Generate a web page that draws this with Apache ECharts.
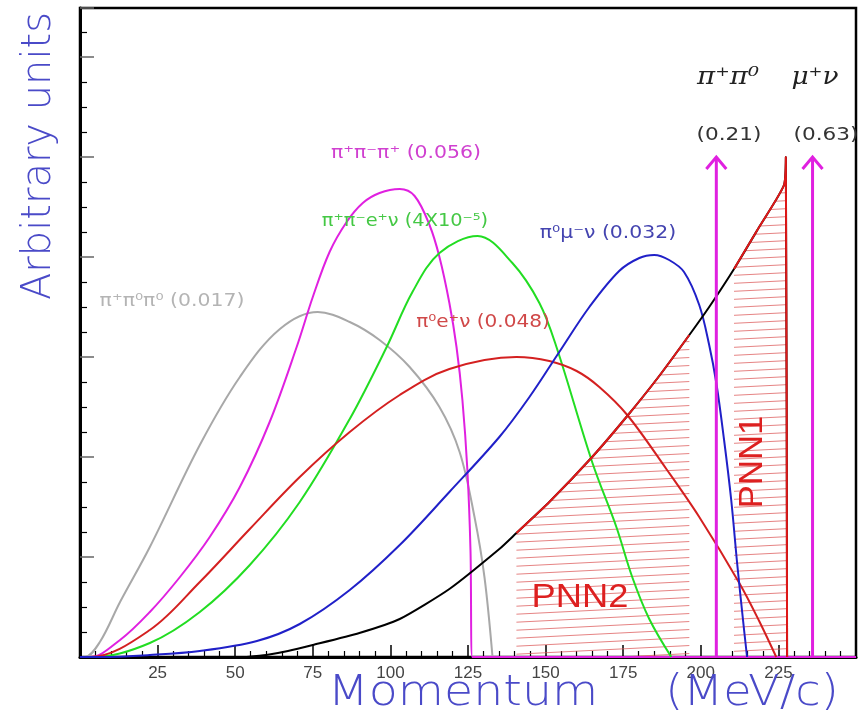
<!DOCTYPE html>
<html><head><meta charset="utf-8">
<script src="https://cdn.jsdelivr.net/npm/echarts@6/dist/echarts.min.js"></script>
<style>html,body{margin:0;padding:0;background:#fff}#c{width:865px;height:718px}</style>
</head><body><div id="c"></div>
<script>
// ---- data (momentum in MeV/c, arbitrary units) ----
const xTickLabels = [25, 50, 75, 100, 125, 150, 175, 200, 225];

const pi3Pi0Pi0X = [0, 1.6, 6.4, 12.9, 22.5, 38.6, 51.5, 64.4, 76.6, 86.9, 96.5, 106.2, 115.8, 122.3, 127.1, 130.3, 132.9];
const pi3Pi0Pi0Y = [0, 0, 0.15, 0.55, 1.1, 2.12, 2.8, 3.28, 3.45, 3.35, 3.17, 2.9, 2.5, 2.05, 1.4, 0.8, 0];

const pi3X = [0, 3.2, 12.9, 22.5, 32.2, 41.8, 51.5, 61.1, 69.8, 75, 80.4, 85.9, 91.1, 96.5, 103, 107.8, 112.6, 115.8, 119, 121.3, 123.2, 124.8, 125.8, 126.4, 250];
const pi3Y = [0, 0, 0.17, 0.45, 0.8, 1.2, 1.7, 2.35, 3.1, 3.6, 4.05, 4.35, 4.54, 4.64, 4.68, 4.61, 4.32, 4.0, 3.54, 3.1, 2.57, 1.87, 1.07, 0, 0];

const ke4X = [0, 4.8, 22.5, 38.6, 54.7, 70.8, 86.9, 98.8, 107.1, 115.8, 128.1, 139.3, 148, 153.5, 165.1, 172.8, 177.9, 183.4, 190.5];
const ke4Y = [0, 0, 0.14, 0.45, 0.92, 1.55, 2.38, 3.1, 3.65, 4.04, 4.21, 3.94, 3.54, 3.1, 1.94, 1.3, 0.8, 0.38, 0];

const ke3X = [0, 3.2, 22.5, 38.6, 54.7, 70.8, 86.9, 103, 119, 140.6, 151.2, 160, 167.3, 176.3, 188.9, 199.5, 212.4, 218.8, 224.3];
const ke3Y = [0, 0, 0.27, 0.75, 1.28, 1.8, 2.25, 2.62, 2.88, 3.0, 2.96, 2.86, 2.7, 2.42, 1.88, 1.4, 0.74, 0.36, 0];

const kmu3X = [0, 6.4, 22.5, 38.6, 57, 70.8, 86.9, 103, 119, 135.1, 144.8, 154.4, 164.1, 173.7, 180.2, 185, 189.8, 194.6, 199.5, 202.7, 205, 207.5, 209.8, 211.7, 213.6, 214.9];
const kmu3Y = [0, 0, 0.02, 0.06, 0.16, 0.33, 0.67, 1.12, 1.65, 2.2, 2.6, 3.05, 3.5, 3.86, 3.99, 4.02, 3.97, 3.85, 3.52, 3.12, 2.74, 2.17, 1.57, 0.94, 0.37, 0];

const signalX = [53.7, 60, 67, 75, 90, 103, 119, 135.1, 140.6, 151.2, 165, 176.3, 186.6, 196.3, 202.7, 210.7, 218.8, 226.8, 227.4, 227.8];
const signalY = [0, 0.02, 0.06, 0.12, 0.24, 0.38, 0.68, 1.08, 1.24, 1.55, 2.0, 2.41, 2.81, 3.22, 3.5, 3.88, 4.3, 4.72, 5.0, 0];

const pnn2Range = [140.6, 196.3];
const pnn1Range = [210.7, 227.8];

const arrowX = [205, 236];
const arrowTop = 5.0;

// ---- helpers ----
function pairs(xs, ys) { return xs.map((x, i) => [x, ys[i]]); }
function inRange(r) { return pairs(signalX, signalY).filter(p => p[0] >= r[0] - 1e-9 && p[0] <= r[1] + 1e-9); }
function hatchCanvas() {
  const c = document.createElement('canvas');
  c.width = 160; c.height = 8;
  const g = c.getContext('2d');
  g.strokeStyle = 'rgba(220,90,90,0.75)';
  g.lineWidth = 1;
  for (const off of [-8, 0, 8]) {
    g.beginPath(); g.moveTo(0, 8 + off); g.lineTo(160, off); g.stroke();
  }
  return c;
}
const hatch = { image: hatchCanvas(), repeat: 'repeat' };

function curve(name, data, color, extra) {
  return Object.assign({
    name, type: 'line', data, showSymbol: false, symbol: 'none',
    smooth: 0.35,
    lineStyle: { color, width: 2 }, z: 3, animation: false
  }, extra || {});
}

const chart = echarts.init(document.getElementById('c'), null, { renderer: 'canvas' });

const txt = (text, x, y, font, fill, extra) => Object.assign({
  type: 'text', x, y, z: 50,
  style: { text, font, fill, textAlign: 'center', textVerticalAlign: 'middle', align: 'center', verticalAlign: 'middle' }
}, extra || {});

const titleFont = '200 42px "DejaVu Sans"';
const labFont = '17px "DejaVu Sans"';

chart.setOption({
  animation: false,
  backgroundColor: '#fff',
  grid: { left: 80, right: 9, top: 8, bottom: 61, show: true, borderColor: '#000', borderWidth: 2.5, containLabel: false },
  xAxis: {
    type: 'value', min: 0, max: 250, interval: 25,
    axisLine: { show: true, onZero: false, lineStyle: { color: '#000', width: 3 } },
    axisTick: { show: true, inside: true, length: 12, lineStyle: { color: '#000', width: 1.5 } },
    minorTick: { show: true, splitNumber: 5, length: 6, lineStyle: { color: '#000', width: 1.2 } },
    axisLabel: {
      formatter: v => xTickLabels.includes(v) ? String(v) : '',
      color: '#444', fontSize: 17, fontFamily: 'Liberation Sans', margin: 8
    },
    splitLine: { show: false }
  },
  yAxis: {
    type: 'value', min: 0, max: 6.49, interval: 1,
    axisLine: { show: true, lineStyle: { color: '#000', width: 3 } },
    axisTick: { show: true, inside: true, length: 14, lineStyle: { color: '#666', width: 1.5 } },
    minorTick: { show: true, splitNumber: 4, length: 7, lineStyle: { color: '#000', width: 1.2 } },
    axisLabel: { show: false },
    splitLine: { show: false }
  },
  graphic: [
    txt('Arbitrary units', 40, 156, '200 40px "DejaVu Sans"', '#4a4ac8', { rotation: Math.PI / 2 }),
    txt('Momentum', 463, 694, titleFont, '#4a4ac8', { scaleX: 1.13 }),
    txt('(MeV/c)', 752, 694, titleFont, '#4a4ac8', { scaleX: 1.1 }),
    txt('π⁺π⁻π⁺ (0.056)', 406, 154, labFont, '#d040d0', { scaleX: 1.2 }),
    txt('π⁺π⁻e⁺ν (4X10⁻⁵)', 405, 222, labFont, '#44c844', { scaleX: 1.14 }),
    txt('π⁰μ⁻ν (0.032)', 608, 234, labFont, '#4444b0', { scaleX: 1.2 }),
    txt('π⁺π⁰π⁰ (0.017)', 172, 302, labFont, '#b4b4b4', { scaleX: 1.2 }),
    txt('π⁰e⁺ν (0.048)', 483, 323, labFont, '#d04848', { scaleX: 1.18 }),
    txt('π⁺π⁰', 728, 78, 'italic 24px "DejaVu Serif"', '#222', { scaleX: 1.15 }),
    txt('μ⁺ν', 815, 78, 'italic 24px "DejaVu Serif"', '#222', { scaleX: 1.1 }),
    txt('(0.21)', 729, 135, '18px "DejaVu Sans"', '#333', { scaleX: 1.2 }),
    txt('(0.63)', 826, 135, '18px "DejaVu Sans"', '#333', { scaleX: 1.2 }),
    txt('PNN2', 580, 598, '33px "Liberation Sans"', '#dd2020', { scaleX: 1.1 }),
    txt('PNN1', 753, 462, '33px "Liberation Sans"', '#dd2020', { rotation: Math.PI / 2, scaleX: 1.05 })
  ],
  series: [
    curve('PNN2 area', inRange(pnn2Range), 'rgba(0,0,0,0)', { lineStyle: { width: 0, opacity: 0 }, areaStyle: { color: hatch, opacity: 1 }, z: 1, smooth: 0.2 }),
    curve('PNN1 area', inRange(pnn1Range), 'rgba(0,0,0,0)', { lineStyle: { width: 0, opacity: 0 }, areaStyle: { color: hatch, opacity: 1 }, z: 1, smooth: 0.2 }),
    curve('pi+pi0pi0', pairs(pi3Pi0Pi0X, pi3Pi0Pi0Y), '#a8a8a8'),
    curve('pi+pi-pi+', pairs(pi3X, pi3Y), '#e020e0'),
    curve('pi+pi-e+nu', pairs(ke4X, ke4Y), '#22dd22'),
    curve('pi0e+nu', pairs(ke3X, ke3Y), '#d42020'),
    curve('pi0mu-nu', pairs(kmu3X, kmu3Y), '#2020c8'),
    curve('signal', pairs(signalX, signalY), '#000', { smooth: 0.2 }),
    curve('PNN2 line', inRange(pnn2Range), '#e01818', { smooth: 0.2, z: 4 }),
    curve('PNN1 line', inRange(pnn1Range), '#e01818', { smooth: 0.2, z: 4 }),
    {
      type: 'custom', name: 'arrows', coordinateSystem: 'cartesian2d', clip: false, z: 5,
      data: arrowX.map(x => [x, arrowTop]),
      encode: { x: 0, y: 1 },
      renderItem(params, api) {
        const x = api.value(0), t = api.value(1);
        const b = api.coord([x, 0]), p = api.coord([x, t]);
        return {
          type: 'group', children: [
            { type: 'line', shape: { x1: b[0], y1: b[1], x2: p[0], y2: p[1] }, style: { stroke: '#e020e0', lineWidth: 3 } },
            { type: 'polyline', shape: { points: [[p[0] - 10, p[1] + 12], [p[0], p[1]], [p[0] + 10, p[1] + 12]] }, style: { stroke: '#e020e0', lineWidth: 3, fill: null } }
          ]
        };
      }
    }
  ]
});
</script>
</body></html>
